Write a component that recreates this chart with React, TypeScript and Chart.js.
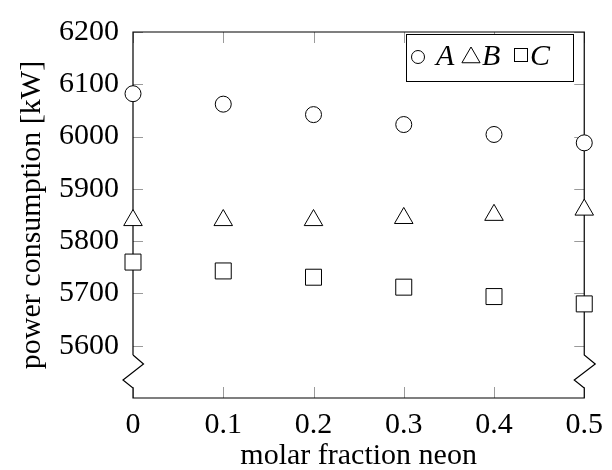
import React, { useEffect, useRef } from "react";
import { Chart, registerables } from "chart.js";

Chart.register(...registerables);

const xValues = [0, 0.1, 0.2, 0.3, 0.4, 0.5];
const seriesA = [6082, 6062, 6042, 6023, 6004, 5988];
const seriesB = [5840, 5840, 5840, 5844, 5850, 5860];
const seriesC = [5760, 5743, 5731, 5712, 5694, 5680];
const legendLabels = ["A", "B", "C"];
const yTickValues = [5600, 5700, 5800, 5900, 6000, 6100, 6200];
const xTickValues = [0, 0.1, 0.2, 0.3, 0.4, 0.5];

const FONT = "'Liberation Serif', 'DejaVu Serif', serif";

const framePlugin = {
  id: "frame",
  beforeDatasetsDraw(chart: any) {
    const { ctx, chartArea } = chart;
    const { left: L, right: R, top: T, bottom: B } = chartArea;
    const xs = chart.scales.x;
    const ys = chart.scales.y;
    ctx.save();
    // inward ticks
    ctx.strokeStyle = "#9a9a9a";
    ctx.lineWidth = 1;
    ctx.beginPath();
    yTickValues.forEach((v) => {
      const y = Math.round(ys.getPixelForValue(v)) + 0.5;
      ctx.moveTo(L, y);
      ctx.lineTo(L + 10, y);
      ctx.moveTo(R, y);
      ctx.lineTo(R - 10, y);
    });
    xTickValues.forEach((v) => {
      const x = Math.round(xs.getPixelForValue(v)) + 0.5;
      ctx.moveTo(x, B);
      ctx.lineTo(x, B - 11);
      ctx.moveTo(x, T);
      ctx.lineTo(x, T + 11);
    });
    ctx.stroke();
    // frame with axis breaks
    ctx.strokeStyle = "#000";
    ctx.lineWidth = 1.2;
    ctx.lineJoin = "miter";
    ctx.beginPath();
    ctx.moveTo(L, B - 43);
    ctx.lineTo(L, T);
    ctx.lineTo(R, T);
    ctx.lineTo(R, B - 43);
    ctx.lineTo(R + 11, B - 34);
    ctx.lineTo(R - 10, B - 18);
    ctx.lineTo(R, B - 10);
    ctx.lineTo(R, B);
    ctx.lineTo(L, B);
    ctx.lineTo(L, B - 10);
    ctx.lineTo(L - 10, B - 18);
    ctx.lineTo(L + 10.5, B - 34);
    ctx.lineTo(L, B - 43);
    ctx.stroke();
    ctx.restore();
  },
  afterDraw(chart: any) {
    const { ctx } = chart;
    ctx.save();
    // legend box
    const bx = 406, by = 34, bw = 167, bh = 47;
    ctx.fillStyle = "#fff";
    ctx.fillRect(bx, by, bw, bh);
    ctx.strokeStyle = "#000";
    ctx.lineWidth = 1;
    ctx.strokeRect(bx + 0.5, by + 0.5, bw, bh);
    // circle
    ctx.beginPath();
    ctx.arc(418, 57, 6.5, 0, Math.PI * 2);
    ctx.stroke();
    // triangle
    const tr = 10.5, tx = 471, ty = 57.5;
    ctx.beginPath();
    for (let i = 0; i < 3; i++) {
      const a = (i * 2 * Math.PI) / 3;
      const px = tx + Math.sin(a) * tr;
      const py = ty - Math.cos(a) * tr;
      if (i === 0) ctx.moveTo(px, py);
      else ctx.lineTo(px, py);
    }
    ctx.closePath();
    ctx.stroke();
    // square
    ctx.strokeRect(514.5, 48.5, 13, 13);
    ctx.fillStyle = "#000";
    ctx.font = `italic 30px ${FONT}`;
    ctx.textBaseline = "alphabetic";
    ctx.textAlign = "left";
    ctx.fillText(legendLabels[0], 436, 65);
    ctx.fillText(legendLabels[1], 482, 65);
    ctx.fillText(legendLabels[2], 530, 65);
    ctx.restore();
  },
};

function makeData(vals: number[]) {
  return vals.map((v, i) => ({ x: xValues[i], y: v }));
}

export default function App() {
  const ref = useRef<HTMLCanvasElement>(null);
  useEffect(() => {
    if (!ref.current) return;
    const common = {
      borderColor: "#000",
      backgroundColor: "#fff",
      borderWidth: 1,
      showLine: false,
      clip: false,
    };
    const chart = new Chart(ref.current, {
      type: "scatter",
      data: {
        datasets: [
          { ...common, label: "A", data: makeData(seriesA), pointStyle: "circle", pointRadius: 8 },
          { ...common, label: "B", data: makeData(seriesB), pointStyle: "triangle", pointRadius: 10.7 },
          { ...common, label: "C", data: makeData(seriesC), pointStyle: "rect", pointRadius: 11.3 },
        ],
      },
      options: {
        animation: false,
        responsive: false,
        devicePixelRatio: 1,
        layout: { padding: { left: 0, right: 26, top: 24, bottom: 0 } },
        plugins: { legend: { display: false }, tooltip: { enabled: false } },
        scales: {
          x: {
            type: "linear",
            min: 0,
            max: 0.5,
            grid: { display: false, drawTicks: false },
            border: { display: false },
            afterBuildTicks: (s: any) => {
              s.ticks = xTickValues.map((v) => ({ value: v }));
            },
            afterFit: (s: any) => {
              s.height = 72;
            },
            ticks: {
              color: "#000",
              font: { family: FONT, size: 30 },
              padding: 9,
              maxRotation: 0,
              autoSkip: false,
              callback: (v: any) => (v === 0 ? "0" : Number(v).toFixed(1)),
            },
            title: {
              display: true,
              text: "molar fraction neon",
              color: "#000",
              font: { family: FONT, size: 30 },
              padding: { top: 0, bottom: -4 },
            },
          },
          y: {
            type: "linear",
            min: 5500,
            max: 6200,
            grid: { display: false, drawTicks: false },
            border: { display: false },
            afterBuildTicks: (s: any) => {
              s.ticks = yTickValues.map((v) => ({ value: v }));
            },
            afterFit: (s: any) => {
              s.width = 133;
            },
            ticks: {
              color: "#000",
              font: { family: FONT, size: 30 },
              padding: 14,
              callback: (v: any) => String(v),
            },
            title: {
              display: true,
              text: "power consumption [kW]",
              color: "#000",
              font: { family: FONT, size: 30 },
              padding: { top: 14, bottom: 0 },
            },
          },
        },
      },
      plugins: [framePlugin],
    } as any);
    return () => chart.destroy();
  }, []);
  return (
    <div style={{ position: "fixed", left: 0, top: 0, width: 612, height: 470, background: "#fff" }}>
      <canvas ref={ref} width={612} height={470} style={{ width: 612, height: 470 }} />
    </div>
  );
}
